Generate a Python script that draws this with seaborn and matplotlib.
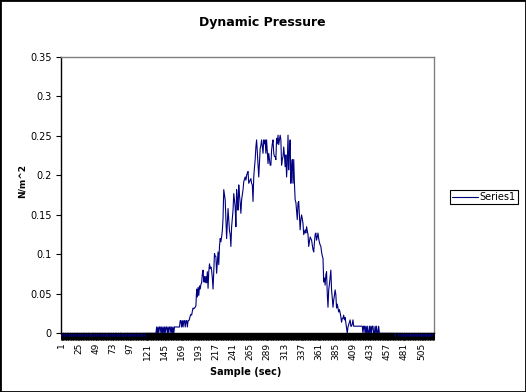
import numpy as np
import pandas as pd
import seaborn as sns
import matplotlib.pyplot as plt
from matplotlib.patches import Rectangle
from matplotlib.ticker import FixedLocator

# values, one per sample (1..522)
quiet_start = [
    0, -0.004, 0, 0, -0.004, 0, 0, -0.004, 0, 0, 0, -0.004, 0, 0, -0.004, 0, 0, -0.004, 0,
    0, -0.004, 0, 0, 0, -0.004, 0, -0.004, 0, 0, -0.004, 0, 0, 0, -0.004, 0, 0, -0.004, 0,
    0, 0, -0.004, 0, -0.004, 0, 0, 0, -0.004, 0, 0, -0.004, 0, 0, -0.004, 0, 0, 0, -0.004,
    0, 0, -0.004, 0, 0, -0.004, 0, -0.004, 0, 0, 0, -0.004, 0, 0, -0.004, 0, 0, -0.004, 0,
    0, 0, -0.004, 0, 0, -0.004, 0, 0, 0, -0.004, 0, -0.004, 0, 0, -0.004, 0, 0, 0, -0.004,
    0, 0, -0.004, 0, 0, -0.004, 0, 0, -0.004, 0, 0, 0, -0.004, 0, 0, -0.004, 0, 0, -0.004,
    0, 0, 0, -0.004, 0, 0, 0, 0, 0, 0, 0, 0, 0, 0, 0, 0, 0, 0, 0,
]
rise = [
    0.008, 0, 0.008, 0, 0.008, 0.008, 0, 0.008, 0, 0.008, 0, 0.008, 0, 0.008, 0.008, 0, 0.008, 0,
    0.008, 0.008, 0, 0.008, 0, 0.008, 0, 0.008, 0.008,
    0.008, 0.008, 0.008, 0.008, 0.008, 0.008,
    0.016, 0.016, 0.008, 0.016, 0.008, 0.016, 0.016, 0.008, 0.016, 0.016, 0.008, 0.016, 0.016, 0.018,
    0.022, 0.024, 0.023, 0.028, 0.032, 0.031, 0.032, 0.033, 0.035,
    0.056, 0.046, 0.058, 0.048, 0.060, 0.056, 0.062, 0.064, 0.075, 0.080,
    0.065, 0.072, 0.064, 0.072, 0.064, 0.078, 0.057, 0.078, 0.088, 0.082,
    0.084, 0.080, 0.070, 0.056, 0.080, 0.101, 0.098, 0.097, 0.076, 0.090,
    0.103, 0.087, 0.110, 0.120, 0.116, 0.122, 0.130, 0.146, 0.182, 0.175,
    0.169, 0.144, 0.120, 0.140, 0.158, 0.144, 0.130, 0.125, 0.110, 0.135,
    0.145, 0.156, 0.177, 0.168, 0.160, 0.135, 0.182, 0.170, 0.156, 0.188,
    0.175, 0.165, 0.152, 0.169, 0.176, 0.182, 0.192, 0.195, 0.198, 0.194,
    0.200, 0.203, 0.205, 0.190, 0.192, 0.194, 0.196, 0.190, 0.188, 0.167,
    0.198, 0.210, 0.220, 0.236, 0.245, 0.230, 0.217, 0.198, 0.215, 0.234,
    0.238, 0.245, 0.236, 0.228, 0.245, 0.240, 0.245, 0.228, 0.245, 0.230,
    0.215, 0.228, 0.220, 0.213, 0.213, 0.232, 0.240, 0.245, 0.228, 0.224, 0.224,
]
fall = [
    0.220, 0.247, 0.240, 0.251, 0.239, 0.245, 0.251, 0.245, 0.213, 0.220,
    0.224, 0.236, 0.225, 0.211, 0.226, 0.198, 0.215, 0.251, 0.207, 0.230,
    0.245, 0.190, 0.210, 0.220, 0.190, 0.220, 0.190, 0.169, 0.166, 0.155,
    0.144, 0.165, 0.167, 0.150, 0.131, 0.144, 0.150, 0.145, 0.139, 0.125,
    0.128, 0.131, 0.127, 0.135, 0.130, 0.125, 0.110, 0.116, 0.122, 0.120,
    0.118, 0.112, 0.106, 0.103, 0.115, 0.125, 0.127, 0.118, 0.122, 0.127,
    0.120, 0.115, 0.112, 0.110, 0.103, 0.098, 0.095, 0.065, 0.070, 0.061,
    0.074, 0.078, 0.050, 0.033, 0.055, 0.062, 0.071, 0.080, 0.055, 0.045,
    0.033, 0.042, 0.048, 0.055, 0.049, 0.032, 0.037, 0.032, 0.027, 0.030,
    0.026, 0.021, 0.014, 0.019, 0.019, 0.023, 0.017, 0.020, 0.013, 0.006,
    0.000, 0.008, 0.011, 0.014, 0.017, 0.009, 0.009, 0.012, 0.017,
    0.009, 0.009, 0.009, 0.009, 0.009, 0.009, 0.009, 0.009, 0.009, 0.009, 0.009, 0.009,
    0.009, 0, 0.009, 0.009, 0, 0.009, 0, 0.009, 0, 0, 0.009, 0, 0.009,
    0, 0.009, 0.009, 0, 0, 0.009, 0, 0.009, 0, 0, 0.009, 0, 0,
    0, 0, 0, 0, 0, 0, 0, 0, 0, 0, 0, 0, 0, 0, 0, 0, 0, 0,
]
quiet_end = [
    0, 0, -0.004, 0, 0, 0, 0, -0.004, 0, 0, 0, -0.004, 0, 0, -0.004, 0, 0, -0.004, 0,
    0, -0.004, 0, 0, -0.004, 0, -0.004, 0, 0, -0.004, 0, 0, -0.004, 0, -0.004, 0, 0, -0.004, 0,
    0, -0.004, 0, -0.004, 0, 0, -0.004, 0, -0.004, 0, 0, -0.004, 0, -0.004, 0, 0, -0.004, 0, 0,
]

x_ticks = [1, 25, 49, 73, 97, 121, 145, 169, 193, 217, 241, 265, 289, 313,
           337, 361, 385, 409, 433, 457, 481, 505]
y_ticks = [0, 0.05, 0.1, 0.15, 0.2, 0.25, 0.3, 0.35]
y_labels = ["0", "0.05", "0.1", "0.15", "0.2", "0.25", "0.3", "0.35"]

pressure = quiet_start + rise + fall + quiet_end
sample = np.arange(1, len(pressure) + 1)
df = pd.DataFrame({"sample": sample, "pressure": pressure})

sns.set_theme(style="white")
plt.rcParams['font.family'] = ['DejaVu Sans']
plt.rcParams['text.color'] = 'black'

W, H = 526, 392
fig = plt.figure(figsize=(W / 100, H / 100), dpi=100)
fig.patch.set_facecolor("white")
ax = fig.add_axes([61.35 / W, 1 - 333.3 / H, (434 - 61.35) / W, (333.3 - 57) / H])

sns.lineplot(data=df, x="sample", y="pressure", ax=ax, color="#000080",
             linewidth=0.8, estimator=None, legend=False)
ax.lines[0].set_clip_on(False)

ax.set_xlim(0.5, len(pressure) + 0.5)
ax.set_ylim(0, 0.35)
ax.set_xticks(x_ticks)
ax.set_xticklabels([str(t) for t in x_ticks], rotation=90)
ax.xaxis.set_minor_locator(FixedLocator(np.arange(0.5, len(pressure) + 1, 1)))
ax.set_yticks(y_ticks)
ax.set_yticklabels(y_labels)
ax.set_xlabel("")
ax.set_ylabel("")

ax.tick_params(axis="x", which="both", direction="out", length=4.8, width=0.75,
               color="black", bottom=True, labelsize=6.5, pad=2)
ax.tick_params(axis="y", which="major", direction="out", length=3.3, width=0.8,
               color="black", left=True, labelsize=7, pad=3.5)
for t in ax.get_xticklabels() + ax.get_yticklabels():
    t.set_color("black")

for s in ["top", "right"]:
    ax.spines[s].set_color("#808080")
    ax.spines[s].set_linewidth(1)
for s in ["left", "bottom"]:
    ax.spines[s].set_color("black")
    ax.spines[s].set_linewidth(1)

fig.text(262 / W, 1 - 22.7 / H, "Dynamic Pressure", ha="center", va="center",
         fontsize=9, fontweight="bold", color="black")
fig.text(246 / W, 1 - 372 / H, "Sample (sec)", ha="center", va="center",
         fontsize=7, fontweight="bold", color="black")
fig.text(22.5 / W, 1 - 181 / H, "N/m^2", ha="center", va="center",
         fontsize=6.5, fontweight="bold", rotation=90, color="black")

leg = fig.legend(ax.lines[:1], ["Series1"], loc="center",
                 bbox_to_anchor=(484 / W, 1 - 197 / H), frameon=True, fancybox=False,
                 edgecolor="black", framealpha=1, fontsize=7, handlelength=2.6,
                 handletextpad=0.2, borderpad=0.25, borderaxespad=0)
leg.get_frame().set_linewidth(0.8)
for t in leg.get_texts():
    t.set_color("black")

fig.patches.append(Rectangle((0, 0), 1, 1, transform=fig.transFigure, fill=False,
                             edgecolor="black", linewidth=2))

fig.savefig("out.png", dpi=100)
